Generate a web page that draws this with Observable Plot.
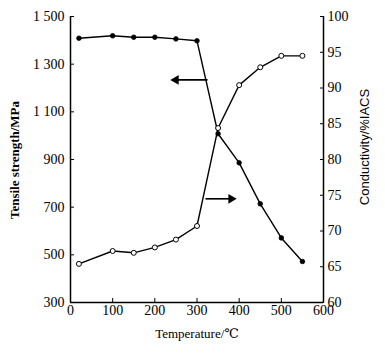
<!DOCTYPE html>
<html><head><meta charset="utf-8">
<script src="https://cdn.jsdelivr.net/npm/d3@7"></script>
<script src="https://cdn.jsdelivr.net/npm/@observablehq/plot@0.6"></script>
<style>body{margin:0;background:#fff}</style>
</head><body><div id="chart"></div>
<script>
const temps = [20, 100, 150, 200, 250, 300, 350, 400, 450, 500, 550];
const tensile = [1409, 1419, 1413, 1413, 1406, 1398, 1008, 886, 714, 571, 472];
const conductivity = [65.4, 67.2, 66.95, 67.7, 68.8, 70.7, 84.4, 90.4, 92.9, 94.5, 94.5];
const xTicks = [0, 100, 200, 300, 400, 500, 600];
const leftTicks = [300, 500, 700, 900, 1100, 1300, 1500];
const leftTickLabels = ["300", "500", "700", "900", "1 100", "1 300", "1 500"];
const rightTicks = [60, 65, 70, 75, 80, 85, 90, 95, 100];
// arrows: start x, tip x, value (left arrow in MPa, right arrow in %IACS)
const arrowLeft = {x1: 325, x2: 250, v: 1234};
const arrowRight = {x1: 320, x2: 381, v: 74.5};

const toY = c => 300 + (c - 60) * 30; // conductivity -> left scale
const tData = temps.map((t, i) => ({t, v: tensile[i]}));
const cData = temps.map((t, i) => ({t, v: toY(conductivity[i])}));
const arrows = [
  {x1: arrowLeft.x1, x2: arrowLeft.x2, y: arrowLeft.v, rot: -90},
  {x1: arrowRight.x1, x2: arrowRight.x2, y: toY(arrowRight.v), rot: 90}
];
const serif = "'Liberation Serif', 'DejaVu Serif', serif";

const chart = Plot.plot({
  width: 385, height: 353,
  marginLeft: 70, marginRight: 62, marginTop: 16, marginBottom: 51,
  style: {fontFamily: serif, fontSize: "14px", color: "#000", background: "#fff"},
  x: {domain: [0, 600]},
  y: {domain: [300, 1500]},
  marks: [
    Plot.axisX(xTicks, {tickSize: -4, tickPadding: 7, label: null, fontSize: 14}),
    Plot.axisY(leftTicks, {tickSize: -4, tickPadding: 10, label: null, fontSize: 14,
      tickFormat: d => leftTickLabels[leftTicks.indexOf(d)]}),
    Plot.axisY(rightTicks.map(toY), {anchor: "right", tickSize: -4, tickPadding: 8, label: null, fontSize: 14,
      tickFormat: d => String(rightTicks[rightTicks.map(toY).indexOf(d)])}),
    Plot.ruleY([300], {stroke: "#000", strokeWidth: 1.5}),
    Plot.ruleX([0, 600], {stroke: "#000", strokeWidth: 1.5}),
    Plot.line(tData, {x: "t", y: "v", stroke: "#000", strokeWidth: 1.4}),
    Plot.line(cData, {x: "t", y: "v", stroke: "#000", strokeWidth: 1.4}),
    Plot.dot(tData, {x: "t", y: "v", r: 2.3, fill: "#000", stroke: "#000", strokeWidth: 0.8}),
    Plot.dot(cData, {x: "t", y: "v", r: 2.5, fill: "#fff", stroke: "#000", strokeWidth: 1}),
    Plot.link(arrows, {x1: "x1", x2: "x2", y1: "y", y2: "y", stroke: "#000", strokeWidth: 1.6}),
    Plot.dot(arrows, {x: "x2", y: "y", symbol: "triangle", rotate: "rot", r: 3.6, fill: "#000", stroke: "none", dx: 0})
  ]
});
const svg = d3.select(chart);
svg.append("text").text("Tensile strength/MPa")
  .attr("transform", "translate(19,160) rotate(-90)")
  .attr("text-anchor", "middle").attr("font-family", serif).attr("font-size", 13).attr("font-weight", "bold").attr("fill", "#000");
svg.append("text").text("Conductivity/%IACS")
  .attr("transform", "translate(369,147) rotate(-90)")
  .attr("text-anchor", "middle").attr("font-family", "'Liberation Sans', Arial, sans-serif").attr("font-size", 13).attr("fill", "#000");
svg.append("text").text("Temperature/℃")
  .attr("x", 197).attr("y", 338)
  .attr("text-anchor", "middle").attr("font-family", serif).attr("font-size", 13).attr("fill", "#000");
document.getElementById("chart").appendChild(chart);
</script>
</body></html>
